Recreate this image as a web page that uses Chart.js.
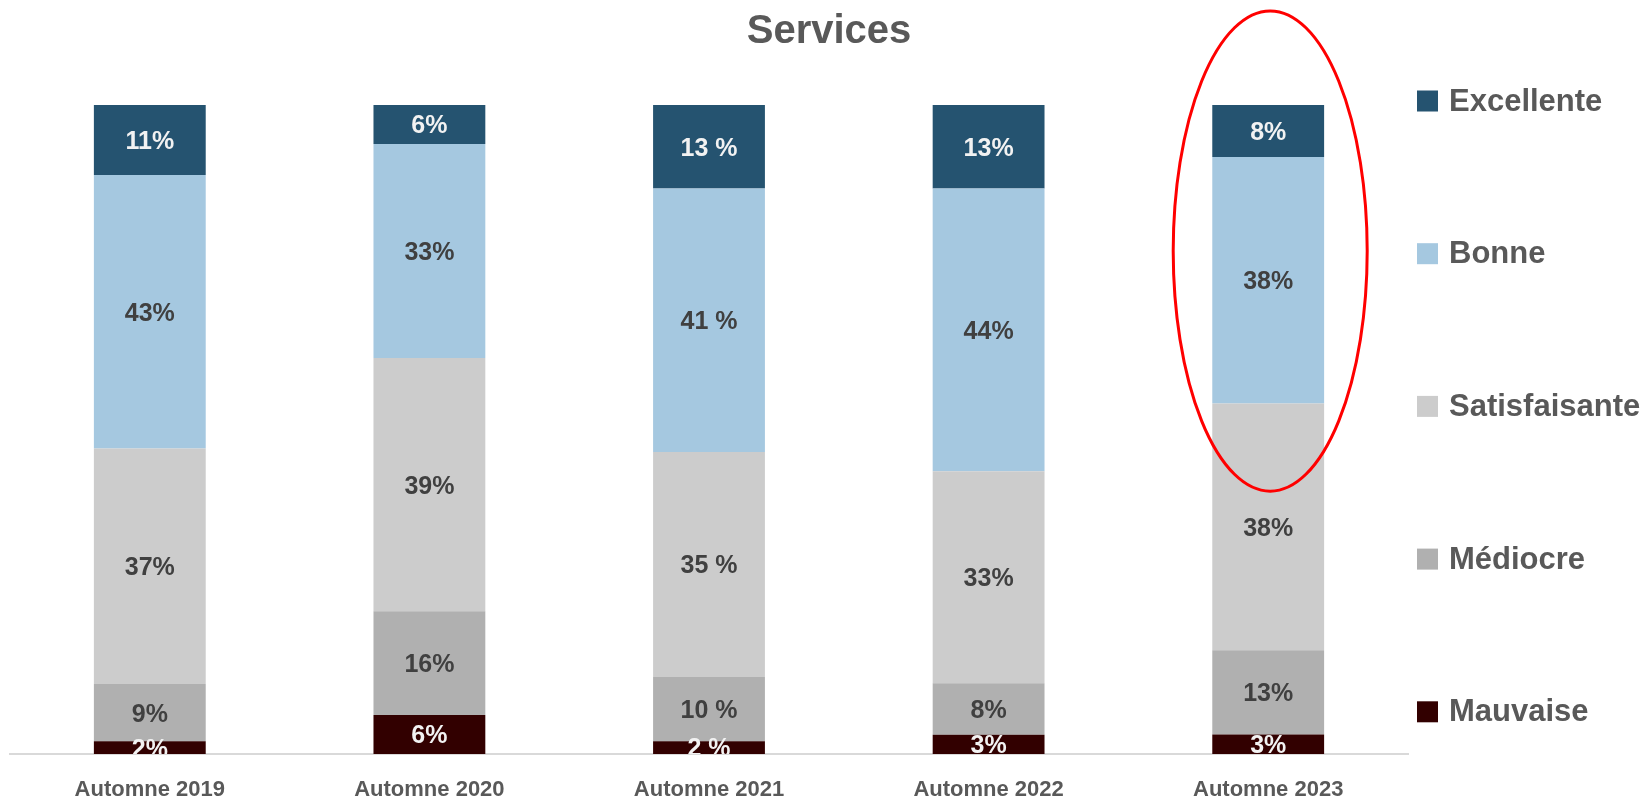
<!DOCTYPE html>
<html lang="fr">
<head>
<meta charset="utf-8">
<title>Services</title>
<script src="https://cdn.jsdelivr.net/npm/chart.js@4.4.1/dist/chart.umd.min.js"></script>
<style>
  html, body { margin: 0; padding: 0; background: #fff; }
  #wrap { width: 1648px; height: 801px; position: relative; }
</style>
</head>
<body>
<div id="wrap"><canvas id="myChart"></canvas></div>
<script>
const FONT = "'Liberation Sans', Arial, sans-serif";

const years = ['Automne 2019', 'Automne 2020', 'Automne 2021', 'Automne 2022', 'Automne 2023'];

// survey answers, in %, as printed on the bars
const mauvaise = [2, 6, 2, 3, 3];
const mediocre = [9, 16, 10, 8, 13];
const satisfaisante = [37, 39, 35, 33, 38];
const bonne = [43, 33, 41, 44, 38];
const excellente = [11, 6, 13, 13, 8];

// 2021 labels are written with a space before the %
const pctSep = ['', '', ' ', '', ''];

const series = [
    { label: 'Mauvaise', values: mauvaise, color: '#320000', text: '#f2f2f2' },
    { label: 'Médiocre', values: mediocre, color: '#b0b0b0', text: '#404040' },
    { label: 'Satisfaisante', values: satisfaisante, color: '#cccccc', text: '#404040' },
    { label: 'Bonne', values: bonne, color: '#a5c8e0', text: '#404040' },
    { label: 'Excellente', values: excellente, color: '#255370', text: '#f2f2f2' },
];

// 100% stacked: each bar is scaled to its own total
const totals = years.map((_, i) => series.reduce((s, d) => s + d.values[i], 0));

// percent labels inside each segment
const segmentLabels = {
    id: 'segmentLabels',
    afterDatasetsDraw(chart) {
        const { ctx, chartArea } = chart;
        ctx.save();
        ctx.beginPath();
        ctx.rect(chartArea.left, chartArea.top, chartArea.right - chartArea.left, chartArea.bottom - chartArea.top);
        ctx.clip();
        ctx.font = 'bold 25px ' + FONT;
        ctx.textAlign = 'center';
        ctx.textBaseline = 'middle';
        chart.data.datasets.forEach((ds, di) => {
            chart.getDatasetMeta(di).data.forEach((bar, i) => {
                ctx.fillStyle = ds.textColor;
                ctx.fillText(ds.raw[i] + pctSep[i] + '%', bar.x, (bar.y + bar.base) / 2 + 2);
            });
        });
        ctx.restore();
    }
};

// legend on the right, top item = top of the stack
const sideLegend = {
    id: 'sideLegend',
    afterDraw(chart) {
        const { ctx, chartArea } = chart;
        const items = chart.data.datasets.slice().reverse();
        const x = chartArea.right + 9;
        const step = 152.7;
        ctx.save();
        ctx.font = 'bold 31px ' + FONT;
        ctx.textBaseline = 'middle';
        ctx.textAlign = 'left';
        items.forEach((ds, k) => {
            const y = chartArea.top - 4 + k * step;
            ctx.fillStyle = ds.backgroundColor;
            ctx.fillRect(x, y - 10.5, 21, 21);
            ctx.fillStyle = '#595959';
            ctx.fillText(ds.label, x + 32, y + 1);
        });
        ctx.restore();
    }
};

// red circle drawn round the last year
const highlight = {
    id: 'highlight',
    afterDraw(chart) {
        const { ctx } = chart;
        const xs = chart.scales.x, ys = chart.scales.y;
        const cx = xs.getPixelForValue(years.length - 1) + 2;
        const top = ys.getPixelForValue(114.5);
        const bottom = ys.getPixelForValue(40.5);
        ctx.save();
        ctx.strokeStyle = '#ff0000';
        ctx.lineWidth = 3;
        ctx.beginPath();
        ctx.ellipse(cx, (top + bottom) / 2, 97, (bottom - top) / 2, 0, 0, Math.PI * 2);
        ctx.stroke();
        ctx.restore();
    }
};

const ctx = document.getElementById('myChart');
new Chart(ctx, {
    type: 'bar',
    data: {
        labels: years,
        datasets: series.map(s => ({
            label: s.label,
            raw: s.values,
            data: s.values.map((v, i) => v / totals[i] * 100),
            backgroundColor: s.color,
            textColor: s.text,
            borderWidth: 0,
            categoryPercentage: 1,
            barPercentage: 0.4,
        })),
    },
    options: {
        responsive: true,
        maintainAspectRatio: false,
        animation: false,
        layout: {
            padding: { left: 10, right: 0, top: 0, bottom: 0 }
        },
        plugins: {
            legend: { display: false },
            tooltip: { enabled: false },
            title: {
                display: true,
                text: 'Services',
                color: '#595959',
                font: { family: FONT, size: 40, weight: 'bold' },
                padding: { top: 8, bottom: 49 }
            }
        },
        scales: {
            x: {
                stacked: true,
                grid: { display: false, drawTicks: false },
                border: { display: true, color: '#d9d9d9', width: 2 },
                ticks: {
                    color: '#595959',
                    padding: 23,
                    font: { family: FONT, size: 22, weight: 'bold' }
                },
                afterFit(scale) { scale.height = 47; }
            },
            y: {
                stacked: true,
                display: false,
                min: 0,
                max: 100
            },
            // empty axis on the right keeps room for the legend
            side: {
                type: 'linear',
                position: 'right',
                grid: { display: false },
                border: { display: false },
                ticks: { display: false },
                afterFit(scale) { scale.width = 240; }
            }
        }
    },
    plugins: [segmentLabels, sideLegend, highlight]
});
</script>
</body>
</html>
